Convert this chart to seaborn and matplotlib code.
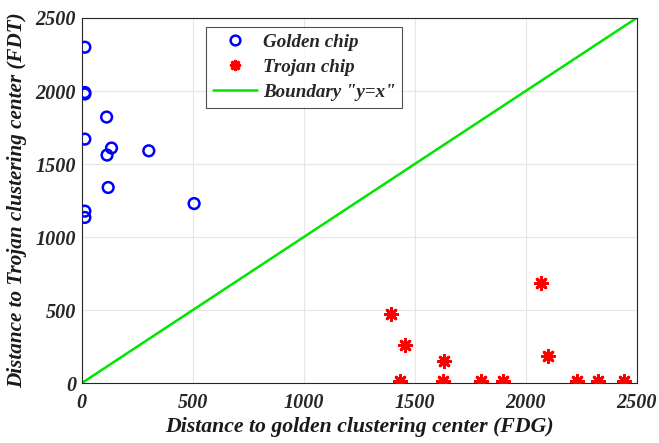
import matplotlib
matplotlib.use("Agg")
import matplotlib.pyplot as plt
import seaborn as sns
import pandas as pd
from matplotlib.lines import Line2D

golden_x = [15, 15, 15, 113, 15, 135, 115, 303, 120, 15, 15, 507]
golden_y = [2300, 1990, 1980, 1822, 1671, 1610, 1562, 1591, 1340, 1178, 1135, 1230]

trojan_x = [1392, 1455, 1434, 1632, 1629, 1800, 1900, 2069, 2102, 2233, 2327, 2443]
trojan_y = [477, 260, 15, 153, 15, 15, 15, 687, 185, 15, 15, 15]

boundary = [0, 2500]
xticks = [0, 500, 1000, 1500, 2000, 2500]
yticks = [0, 500, 1000, 1500, 2000, 2500]

sns.set_theme(style="white")
plt.rcParams['font.family'] = ['Liberation Serif', 'DejaVu Serif']

fig = plt.figure(figsize=(6.59, 4.43), dpi=100)
ax = fig.add_axes([0.1237, 0.1348, 0.8424, 0.8246])

gdf = pd.DataFrame({"x": golden_x, "y": golden_y})
tdf = pd.DataFrame({"x": trojan_x, "y": trojan_y})
bdf = pd.DataFrame({"x": boundary, "y": boundary})

sns.scatterplot(data=gdf, x="x", y="y", ax=ax, marker="o", s=60,
                facecolors="none", edgecolor="#0000ff", linewidth=1.8, zorder=3)
sns.scatterplot(data=tdf, x="x", y="y", ax=ax, marker=(8, 2, 0), s=80,
                color="#ff0000", edgecolor="#ff0000", linewidth=2.0, zorder=3)
sns.lineplot(data=bdf, x="x", y="y", ax=ax, color="#00e600", linewidth=1.8, zorder=2)

ax.set_xlim(0, 2500)
ax.set_ylim(0, 2500)
ax.set_xticks(xticks)
ax.set_yticks(yticks)
tick_font = dict(fontsize=14.5, fontweight="bold", fontstyle="italic", color="#1a1a1a")
ax.set_xticklabels([str(t) for t in xticks], **tick_font)
ax.set_yticklabels([str(t) for t in yticks], **tick_font)
ax.grid(True, color="#e6e6e6", linewidth=0.8)
ax.tick_params(direction="in", length=4, width=0.8, colors="#262626")
ax.tick_params(axis="x", pad=7)
ax.tick_params(axis="y", pad=4)
for s in ax.spines.values():
    s.set_visible(True)
    s.set_color("#262626")
    s.set_linewidth(0.8)

ax.set_xlabel("Distance to golden clustering center (FDG)", fontsize=15.7,
              fontweight="bold", fontstyle="italic", color="#1a1a1a", labelpad=3)
ax.set_ylabel("Distance to Trojan clustering center (FDT)", fontsize=15.2,
              fontweight="bold", fontstyle="italic", color="#1a1a1a", labelpad=6)

handles = [
    Line2D([], [], marker="o", linestyle="none", markerfacecolor="none",
           markeredgecolor="#0000ff", markeredgewidth=1.8, markersize=7),
    Line2D([], [], marker=(8, 2, 0), linestyle="none", color="#ff0000",
           markeredgewidth=2.0, markersize=8),
    Line2D([], [], color="#00e600", linewidth=1.8),
]
labels = ["Golden chip", "Trojan chip", 'Boundary "y=x"']
leg = ax.legend(handles, labels, loc="upper left", bbox_to_anchor=(0.224, 0.975),
                borderaxespad=0,
                prop={"size": 13.7, "weight": "bold", "style": "italic"},
                frameon=True, fancybox=False, edgecolor="#262626",
                handlelength=2.35, borderpad=0.35, labelspacing=0.4, handletextpad=0.3)
leg.get_frame().set_linewidth(0.8)

fig.savefig("out.png", dpi=100)
